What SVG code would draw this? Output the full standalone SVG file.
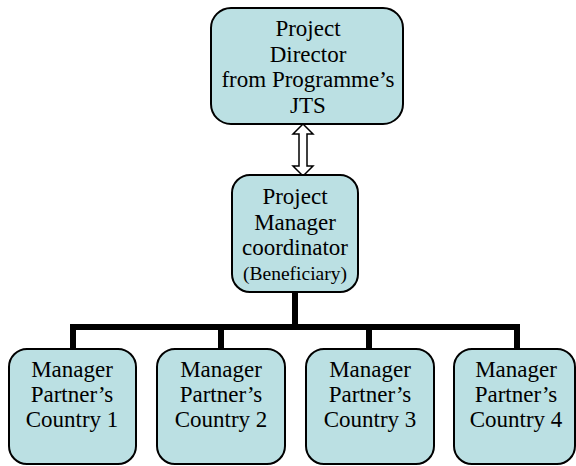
<svg xmlns="http://www.w3.org/2000/svg" width="576" height="466" viewBox="0 0 576 466">
<style>
.box{fill:#bbe0e3;stroke:#000;stroke-width:2}
.t{font-family:'Liberation Serif','DejaVu Serif',serif;font-size:23px;fill:#000;text-anchor:middle}
.s{font-size:19.5px}
.bar{stroke:#000;stroke-width:6;fill:none}
</style>
<rect width="576" height="466" fill="#fff"/>
<g id="connectors">
<polygon points="303,124 293,134 299,134 299,166 293,166 303,176 313,166 307,166 307,134 313,134" fill="#fff" stroke="#000" stroke-width="1.5" stroke-linejoin="miter"/>
<line class="bar" x1="295" y1="292" x2="295" y2="327"/>
<line class="bar" x1="70" y1="327" x2="520" y2="327"/>
<line class="bar" x1="73" y1="327" x2="73" y2="349"/>
<line class="bar" x1="221" y1="327" x2="221" y2="349"/>
<line class="bar" x1="369" y1="327" x2="369" y2="349"/>
<line class="bar" x1="517" y1="327" x2="517" y2="349"/>
</g>
<g id="director">
<rect class="box" x="211" y="8" width="192" height="116" rx="20"/>
<text class="t" x="308" y="36">Project</text>
<text class="t" x="308" y="62">Director</text>
<text class="t" x="308" y="87">from Programme’s</text>
<text class="t" x="308" y="113">JTS</text>
</g>
<g id="manager">
<rect class="box" x="232" y="175" width="126" height="117" rx="18"/>
<text class="t" x="295" y="204">Project</text>
<text class="t" x="295" y="230">Manager</text>
<text class="t" x="295" y="255">coordinator</text>
<text class="t s" x="295" y="280">(Beneficiary)</text>
</g>
<g id="partner1">
<rect class="box" x="9" y="349" width="127" height="115" rx="18"/>
<text class="t" x="72" y="377">Manager</text>
<text class="t" x="72" y="402">Partner’s</text>
<text class="t" x="72" y="427">Country 1</text>
</g>
<g id="partner2">
<rect class="box" x="157" y="349" width="128" height="115" rx="18"/>
<text class="t" x="221" y="377">Manager</text>
<text class="t" x="221" y="402">Partner’s</text>
<text class="t" x="221" y="427">Country 2</text>
</g>
<g id="partner3">
<rect class="box" x="306" y="349" width="128" height="115" rx="18"/>
<text class="t" x="370" y="377">Manager</text>
<text class="t" x="370" y="402">Partner’s</text>
<text class="t" x="370" y="427">Country 3</text>
</g>
<g id="partner4">
<rect class="box" x="454" y="349" width="121" height="115" rx="18"/>
<text class="t" x="516" y="377">Manager</text>
<text class="t" x="516" y="402">Partner’s</text>
<text class="t" x="516" y="427">Country 4</text>
</g>
</svg>
